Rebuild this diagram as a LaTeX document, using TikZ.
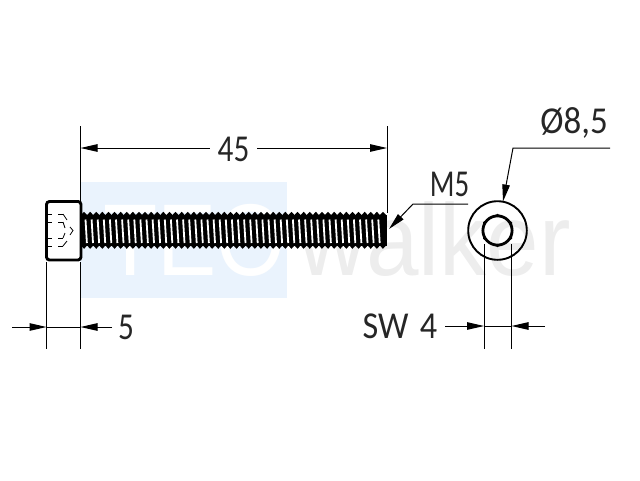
\documentclass[tikz,border=0pt]{standalone}
\usepackage{fontspec}
\setmainfont{Carlito}
\newfontfamily\wmfont{Liberation Sans}
\usetikzlibrary{arrows.meta}
\definecolor{wmblue}{HTML}{EAF3FD}
\definecolor{wmgrey}{HTML}{EDEDED}
\tikzset{
  x=1pt,y=-1pt,
  thinline/.style={line width=1pt,black},
  dimarrow/.style={thinline,-{Triangle[length=17pt,width=7.5pt]}},
  dimtext/.style={inner sep=0pt,font=\fontsize{38}{38}\selectfont,text=black!85},
  heavy/.style={line width=2.9pt,black},
  socket/.style={line width=.8pt,black},
  wmtext/.style={inner sep=0pt,anchor=base west,font=\wmfont\fontsize{102}{102}\selectfont},
}
\newcommand{\narrow}[1]{\scalebox{.82}[1]{#1}}
\begin{document}
\begin{tikzpicture}
\useasboundingbox (0,0) rectangle (640,480);
% watermark
\fill[wmblue] (80,182) rectangle (287,298);
\node[wmtext,text=white] (wmteo) at (103,275) {\scalebox{.87}[1]{TEO}};
\node[wmtext,text=wmgrey] (wmwalker) at (298,275) {\scalebox{.925}[1]{walker}};
% named points
\coordinate (ext45a) at (80.5,126);
\coordinate (ext45am) at (80.5,148);
\coordinate (ext45b) at (387,126);
\coordinate (ext45bm) at (387,148);
\coordinate (ext45be) at (387,213);
\coordinate (ext45ae) at (80.5,212);
\coordinate (extHa) at (46.5,262);
\coordinate (extHae) at (46.5,349);
\coordinate (extHb) at (80.5,262);
\coordinate (extHbe) at (80.5,349);
\coordinate (extSa) at (484,244);
\coordinate (extSae) at (484,349);
\coordinate (extSb) at (511.5,244);
\coordinate (extSbe) at (511.5,349);
% thread
\fill[black] (81,214.5) rectangle (386.5,246);
\foreach \i in {0,...,49}{
  \pgfmathsetmacro{\xa}{81+6.1*\i}
  \fill[black] (\xa,215) -- (\xa+3.05,211.8) -- (\xa+6.1,215) -- cycle;
  \fill[black] (\xa,245.5) -- (\xa+3.05,248.8) -- (\xa+6.1,245.5) -- cycle;
}
\foreach \i in {0,...,48}{
  \pgfmathsetmacro{\xb}{85.5+6.1*\i}
  \draw[white,line width=1.8pt] (\xb,219.5) -- (\xb+1.4,243);
}
% head
\draw[heavy,rounded corners=3pt] (46.5,201.5) rectangle (81,260);
\foreach \yy in {214,222,238,246}{
  \draw[socket] (48,\yy) -- (52,\yy);
  \draw[socket] (58,\yy) -- (63,\yy);
}
\draw[socket] (63,214) -- (67,220);
\draw[socket] (63,222) -- (65,228);
\draw[socket] (70,227) -- (73,230.5) -- (70,235);
\draw[socket] (63,238) -- (65,233);
\draw[socket] (63,246) -- (67,241);
% end view
\coordinate (endc) at (497.5,230.5);
\draw[line width=1.9pt] (endc) circle[radius=29.3];
\draw[line width=2.8pt] (endc) circle[radius=14.6];
\draw[line width=.8pt] (497.5,214.3) -- (511.6,222.4) -- (511.6,238.6) -- (497.5,246.7) -- (483.4,238.6) -- (483.4,222.4) -- cycle;
% extension lines
\draw[thinline] (ext45a) -- (ext45ae);
\draw[thinline] (ext45b) -- (ext45be);
\draw[thinline] (extHa) -- (extHae);
\draw[thinline] (extHb) -- (extHbe);
\draw[thinline] (extSa) -- (extSae);
\draw[thinline] (extSb) -- (extSbe);
% 45
\node[dimtext,minimum width=47pt,minimum height=26pt] (d45) at (233.5,149) {\narrow{45}};
\draw[dimarrow] (d45.west |- ext45am) -- (ext45am);
\draw[dimarrow] (d45.east |- ext45bm) -- (ext45bm);
% 5
\node[dimtext] (d5) at (126,327.5) {\narrow{5}};
\coordinate (h1s) at (12,327); \coordinate (h1t) at (46.5,327);
\coordinate (h2s) at (112,327); \coordinate (h2t) at (80.5,327);
\draw[dimarrow] (h1s) -- (h1t);
\draw[thinline] (h1t) -- (h2t);
\draw[dimarrow] (h2s) -- (h2t);
% SW 4
\node[dimtext] (sw) at (400,326) {\scalebox{.9}[1]{SW\,\,4}};
\coordinate (s1s) at (445,326); \coordinate (s1t) at (484,326);
\coordinate (s2s) at (545,326); \coordinate (s2t) at (511.5,326);
\draw[dimarrow] (s1s) -- (s1t);
\draw[thinline] (s1t) -- (s2t);
\draw[dimarrow] (s2s) -- (s2t);
% M5
\node[dimtext] (m5) at (449.5,184) {\scalebox{.76}[1]{M5}};
\coordinate (m5e) at (468,204); \coordinate (m5k) at (413,204); \coordinate (m5t) at (389,229);
\draw[dimarrow] (m5e) -- (m5k) -- (m5t);
% dia
\node[dimtext] (dia) at (574,122.5) {\scalebox{.92}[1]{Ø8,5}};
\coordinate (de) at (610,148); \coordinate (dk) at (513,148); \coordinate (dt) at (503,201.5);
\draw[dimarrow] (de) -- (dk) -- (dt);
\end{tikzpicture}
\end{document}
